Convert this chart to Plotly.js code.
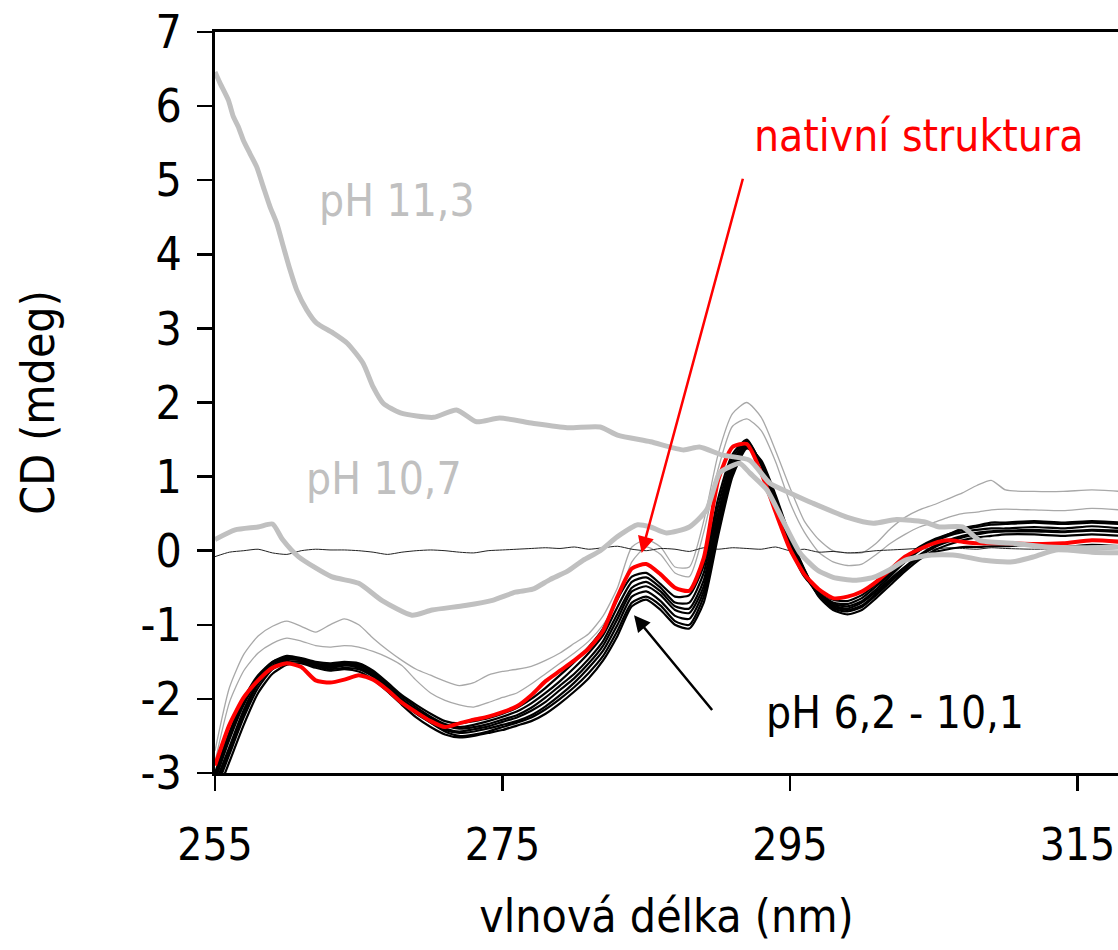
<!DOCTYPE html>
<html>
<head>
<meta charset="utf-8">
<script src="https://cdn.plot.ly/plotly-3.0.1.min.js"></script>
<style>html,body{margin:0;padding:0;background:#fff;}#chart{width:1118px;height:950px;}</style>
</head>
<body>
<div id="chart"></div>
<script>
// ---- common wavelength grid for the pH 6.2 - 10.1 bundle, native and thin grey curves (nm)
const wl = [255,256,257,258,259,260,261,262,263,264,265,266,267,268,269,270,271,272,273,274,275,276,277,278,279,280,281,282,283,284,285,286,287,288,289,290,291,292,293,294,295,296,297,298,299,300,301,302,303,304,305,306,307,308,309,310,312,314,316,318];

// native structure (red)
const nativeCD = [-2.90,-2.35,-1.98,-1.75,-1.58,-1.52,-1.57,-1.75,-1.78,-1.74,-1.68,-1.74,-1.88,-2.05,-2.18,-2.30,-2.38,-2.33,-2.28,-2.24,-2.18,-2.10,-1.95,-1.76,-1.62,-1.48,-1.32,-1.08,-0.62,-0.24,-0.18,-0.32,-0.50,-0.54,-0.10,0.95,1.40,1.44,1.05,0.52,0.02,-0.32,-0.52,-0.64,-0.62,-0.55,-0.42,-0.25,-0.08,0.02,0.10,0.14,0.12,0.10,0.10,0.10,0.09,0.10,0.14,0.12];

// pH 6.2 - 10.1 (black bundle)
const ph_b1 = [-3.05,-2.50,-2.05,-1.70,-1.50,-1.42,-1.45,-1.50,-1.52,-1.50,-1.52,-1.62,-1.78,-1.95,-2.08,-2.20,-2.30,-2.33,-2.30,-2.26,-2.20,-2.12,-2.00,-1.85,-1.68,-1.50,-1.30,-1.05,-0.65,-0.35,-0.30,-0.45,-0.62,-0.60,-0.20,0.70,1.30,1.50,1.15,0.60,0.05,-0.35,-0.55,-0.66,-0.68,-0.60,-0.45,-0.28,-0.10,0.05,0.15,0.22,0.28,0.32,0.35,0.36,0.38,0.36,0.38,0.36];
const ph_b2 = [-3.15,-2.65,-2.15,-1.78,-1.55,-1.46,-1.48,-1.55,-1.58,-1.55,-1.56,-1.66,-1.82,-2.00,-2.14,-2.26,-2.36,-2.40,-2.38,-2.34,-2.28,-2.22,-2.12,-1.98,-1.82,-1.66,-1.46,-1.22,-0.85,-0.50,-0.42,-0.55,-0.75,-0.78,-0.40,0.50,1.20,1.45,1.18,0.65,0.10,-0.30,-0.58,-0.72,-0.75,-0.68,-0.52,-0.34,-0.15,0.00,0.12,0.20,0.25,0.28,0.30,0.30,0.32,0.30,0.33,0.30];
const ph_b3 = [-3.25,-2.75,-2.25,-1.85,-1.60,-1.50,-1.50,-1.56,-1.60,-1.58,-1.60,-1.70,-1.86,-2.04,-2.20,-2.32,-2.42,-2.46,-2.44,-2.40,-2.35,-2.30,-2.22,-2.10,-1.95,-1.78,-1.58,-1.35,-1.00,-0.62,-0.55,-0.68,-0.88,-0.92,-0.55,0.35,1.10,1.42,1.20,0.70,0.15,-0.28,-0.60,-0.76,-0.80,-0.74,-0.58,-0.40,-0.22,-0.06,0.06,0.14,0.20,0.24,0.26,0.27,0.28,0.26,0.28,0.27];
const ph_b4 = [-3.35,-2.85,-2.35,-1.92,-1.66,-1.54,-1.52,-1.58,-1.62,-1.60,-1.63,-1.74,-1.90,-2.08,-2.25,-2.38,-2.48,-2.52,-2.50,-2.46,-2.42,-2.36,-2.30,-2.20,-2.06,-1.90,-1.72,-1.48,-1.15,-0.75,-0.66,-0.80,-1.00,-1.05,-0.70,0.20,1.00,1.38,1.22,0.75,0.20,-0.25,-0.62,-0.80,-0.86,-0.80,-0.64,-0.46,-0.28,-0.12,0.00,0.08,0.14,0.18,0.20,0.22,0.22,0.20,0.22,0.20];
const ph_b5 = [-3.10,-2.55,-2.08,-1.74,-1.52,-1.45,-1.48,-1.54,-1.56,-1.53,-1.55,-1.66,-1.84,-2.02,-2.17,-2.30,-2.40,-2.44,-2.41,-2.37,-2.31,-2.25,-2.16,-2.04,-1.88,-1.72,-1.52,-1.28,-0.92,-0.55,-0.48,-0.60,-0.80,-0.84,-0.48,0.42,1.15,1.44,1.16,0.62,0.08,-0.32,-0.60,-0.74,-0.78,-0.70,-0.55,-0.38,-0.22,-0.10,-0.02,0.02,0.05,0.05,0.06,0.06,0.08,0.05,0.08,0.06];
const ph_b6 = [-3.20,-2.70,-2.20,-1.80,-1.57,-1.48,-1.46,-1.52,-1.56,-1.54,-1.58,-1.68,-1.84,-2.02,-2.18,-2.32,-2.44,-2.50,-2.48,-2.44,-2.38,-2.32,-2.25,-2.14,-2.00,-1.84,-1.65,-1.42,-1.08,-0.70,-0.62,-0.74,-0.95,-1.00,-0.62,0.28,1.05,1.40,1.20,0.72,0.18,-0.26,-0.60,-0.78,-0.82,-0.76,-0.60,-0.42,-0.25,-0.08,0.04,0.12,0.18,0.22,0.25,0.26,0.26,0.25,0.27,0.25];
const ph_b7 = [-3.00,-2.45,-2.00,-1.68,-1.50,-1.44,-1.47,-1.53,-1.54,-1.52,-1.54,-1.64,-1.80,-1.97,-2.11,-2.24,-2.34,-2.38,-2.35,-2.30,-2.24,-2.17,-2.06,-1.92,-1.76,-1.58,-1.38,-1.14,-0.76,-0.42,-0.36,-0.50,-0.70,-0.70,-0.30,0.60,1.25,1.48,1.17,0.63,0.08,-0.33,-0.57,-0.70,-0.72,-0.64,-0.48,-0.31,-0.12,0.02,0.13,0.22,0.30,0.34,0.38,0.38,0.40,0.38,0.40,0.38];

// thin grey curves (intermediate alkaline pH)
const ph_g1 = [-2.70,-1.85,-1.40,-1.15,-1.02,-0.95,-1.02,-1.10,-1.00,-0.92,-1.00,-1.18,-1.34,-1.48,-1.60,-1.68,-1.76,-1.82,-1.78,-1.68,-1.63,-1.60,-1.56,-1.48,-1.38,-1.25,-1.12,-0.88,-0.50,0.05,0.15,0.05,-0.22,-0.22,0.40,1.30,1.85,2.00,1.80,1.35,0.85,0.40,0.15,0.00,-0.03,-0.03,0.10,0.30,0.45,0.55,0.62,0.70,0.78,0.88,0.95,0.82,0.80,0.80,0.82,0.80];
const ph_g2 = [-2.85,-2.05,-1.62,-1.38,-1.25,-1.18,-1.22,-1.28,-1.30,-1.28,-1.30,-1.36,-1.44,-1.55,-1.75,-1.92,-2.02,-2.08,-2.11,-2.05,-1.98,-1.92,-1.80,-1.66,-1.52,-1.38,-1.22,-1.00,-0.68,-0.15,0.05,-0.05,-0.30,-0.35,0.25,1.10,1.68,1.78,1.62,1.20,0.65,0.25,-0.02,-0.15,-0.20,-0.18,-0.05,0.10,0.22,0.32,0.38,0.45,0.50,0.52,0.55,0.56,0.55,0.54,0.57,0.55];

// buffer baseline (thin black, near zero)
const baseline = [-0.08,-0.02,0.00,0.02,-0.03,-0.05,0.00,0.02,0.01,0.01,0.00,-0.02,-0.05,-0.02,0.00,0.01,0.00,-0.02,-0.03,0.00,0.01,0.02,0.03,0.04,0.03,0.05,0.02,0.04,0.06,0.02,0.00,0.03,0.02,-0.01,0.04,0.02,0.04,0.03,0.02,0.05,0.00,0.02,-0.02,-0.01,-0.03,-0.02,0.00,0.01,0.02,0.03,0.02,0.04,0.03,0.02,0.04,0.03,0.02,0.03,0.02,0.03];

// pH 11.3 (thick grey)
const wl_113 = [255,255.35,255.93,256.27,256.62,256.97,257.43,257.9,258.36,258.83,259.29,259.76,260.22,260.68,261.38,262.07,263.2,264.2,265.3,266.0,266.7,267.9,270.2,271.8,273.2,274.8,277.1,279.5,281.8,283.0,285.3,287.6,288.7,290.3,292.2,293.6,295.0,296.6,299.0,300.8,302.4,304.3,305.4,307.0,308.2,310.5,312.9,315.2,318];
const cd_113 = [6.46,6.31,6.08,5.86,5.72,5.54,5.36,5.18,4.91,4.64,4.42,4.10,3.79,3.52,3.25,3.07,2.94,2.80,2.53,2.21,1.99,1.86,1.80,1.90,1.74,1.79,1.72,1.66,1.67,1.56,1.47,1.36,1.40,1.29,1.22,0.91,0.78,0.64,0.45,0.37,0.42,0.39,0.32,0.32,0.14,0.10,0.05,0.04,0.05];

// pH 10.7 (thick grey)
const wl_107 = [255,256.4,258.0,259.0,259.7,260.8,263.1,265.0,266.6,268.7,270.1,272.4,274.3,275.9,277.1,278.3,279.5,280.6,281.8,283.0,284.4,285.3,286.4,288.0,289.2,290.1,290.8,291.5,292.2,293.4,294.5,295.7,296.9,298.0,299.5,300.8,302.0,303.0,304.7,306.5,308.5,310.5,312.0,313.5,316.0,318];
const cd_107 = [0.15,0.28,0.32,0.36,0.15,-0.08,-0.35,-0.44,-0.67,-0.87,-0.80,-0.74,-0.67,-0.56,-0.52,-0.39,-0.28,-0.13,0.00,0.19,0.35,0.32,0.24,0.32,0.55,1.05,1.13,1.18,1.05,0.82,0.41,-0.03,-0.26,-0.36,-0.40,-0.36,-0.25,-0.13,-0.06,-0.06,-0.13,-0.15,-0.08,0.01,-0.02,-0.03];

// axis ticks
const yTickVals = [-3,-2,-1,0,1,2,3,4,5,6,7];
const yTickText = ['-3','-2','-1','0','1','2','3','4','5','6','7'];
const xTickVals = [255,275,295,315];
const xTickText = ['255','275','295','315'];

const FONT = "'DejaVu Sans Condensed', 'DejaVu Sans', Verdana, sans-serif";

const traces = [];
function line(x, y, color, width) {
  return {x: x, y: y, type: 'scatter', mode: 'lines',
          line: {color: color, width: width, shape: 'spline', smoothing: 0.6},
          hoverinfo: 'skip', showlegend: false};
}
[ph_g1, ph_g2].forEach(s => traces.push(line(wl, s, '#a8a8a8', 1.3)));
traces.push(line(wl, baseline, '#222222', 1));
[ph_b1, ph_b2, ph_b3, ph_b4, ph_b5, ph_b6, ph_b7].forEach(s => traces.push(line(wl, s, '#000000', 2.2)));
traces.push(line(wl, nativeCD, '#ff0000', 4));
traces.push(line(wl_113, cd_113, '#c0c0c0', 5));
traces.push(line(wl_107, cd_107, '#c0c0c0', 5));

const layout = {
  width: 1118, height: 950,
  margin: {l: 215, r: 0, t: 32, b: 177, pad: 0},
  paper_bgcolor: '#ffffff', plot_bgcolor: '#ffffff',
  showlegend: false,
  font: {family: FONT, color: '#000'},
  xaxis: {
    range: [255, 317.82], showgrid: false, zeroline: false,
    showline: true, linecolor: '#000', linewidth: 3, mirror: true,
    ticks: 'outside', ticklen: 15, tickwidth: 2.5, tickcolor: '#000',
    tickvals: xTickVals, ticktext: xTickText, ticklabelstandoff: 16,
    tickfont: {family: FONT, size: 44, color: '#000'},
    title: {text: 'vlnová délka (nm)', font: {family: FONT, size: 46, color: '#000'}, standoff: 32}
  },
  yaxis: {
    range: [-3, 7], showgrid: false, zeroline: false,
    showline: true, linecolor: '#000', linewidth: 3,
    ticks: 'outside', ticklen: 15, tickwidth: 2.5, tickcolor: '#000',
    tickvals: yTickVals, ticktext: yTickText, ticklabelstandoff: 6,
    tickfont: {family: FONT, size: 46, color: '#000'},
    title: {text: 'CD (mdeg)', font: {family: FONT, size: 46, color: '#000'}, standoff: 72}
  },
  annotations: [
    {x: 267.66, y: 4.73, xref: 'x', yref: 'y', text: 'pH 11,3', showarrow: false,
     font: {family: FONT, size: 44, color: '#c0c0c0'}},
    {x: 266.76, y: 0.98, xref: 'x', yref: 'y', text: 'pH 10,7', showarrow: false,
     font: {family: FONT, size: 44, color: '#c0c0c0'}},
    {x: 303.93, y: 5.61, xref: 'x', yref: 'y', text: 'nativní struktura', showarrow: false,
     font: {family: FONT, size: 44, color: '#ff0000'}},
    {x: 302.3, y: -2.19, xref: 'x', yref: 'y', text: 'pH 6,2 - 10,1', showarrow: false,
     font: {family: FONT, size: 44, color: '#000'}},
    {x: 284.68, y: -0.03, xref: 'x', yref: 'y', ax: 291.75, ay: 5.04, axref: 'x', ayref: 'y',
     text: '', showarrow: true, arrowhead: 2, arrowsize: 1.3, arrowwidth: 2.5, arrowcolor: '#ff0000'},
    {x: 284.15, y: -0.87, xref: 'x', yref: 'y', ax: 289.67, ay: -2.17, axref: 'x', ayref: 'y',
     text: '', showarrow: true, arrowhead: 2, arrowsize: 1.3, arrowwidth: 2.5, arrowcolor: '#000000'}
  ]
};

Plotly.newPlot('chart', traces, layout, {staticPlot: true, displayModeBar: false});
</script>
</body>
</html>
